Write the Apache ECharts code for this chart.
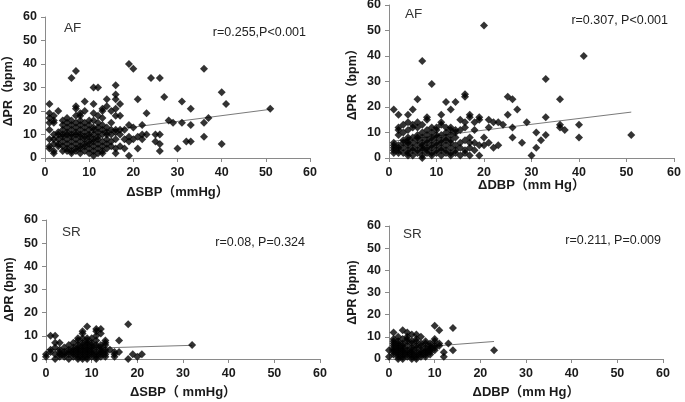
<!DOCTYPE html>
<html>
<head>
<meta charset="utf-8">
<script src="https://cdn.jsdelivr.net/npm/echarts@6/dist/echarts.min.js"></script>
<style>
html,body{margin:0;padding:0;background:#fff;}
#chart{width:685px;height:402px;}
</style>
</head>
<body>
<div id="chart"></div>
<script>
// ---- data (ΔBP mmHg, ΔPR bpm) ----
const afSbpPoints = [
[1,4],[1,5],[1,8],[1,12],[1,15],[1,17],[1,19],[1,23],
[2,2],[2,3],[2,6],[2,8],[2,10],[2,15],[2,16],[2,18],
[3,5],[3,6],[3,8],[3,10],[3,11],[3,20],
[4,3],[4,5],[4,7],[4,9],[4,10],[4,12],[4,14],[4,16],
[5,3],[5,4],[5,6],[5,8],[5,10],[5,11],[5,13],[5,15],[5,17],
[6,2],[6,3],[6,5],[6,7],[6,9],[6,10],[6,12],[6,14],[6,16],[6,34],
[7,3],[7,4],[7,6],[7,8],[7,10],[7,11],[7,13],[7,15],[7,18],[7,21],[7,22],[7,37],
[8,2],[8,4],[8,5],[8,7],[8,9],[8,10],[8,12],[8,14],[8,16],[8,18],[8,19],
[9,3],[9,5],[9,6],[9,8],[9,9],[9,11],[9,13],[9,15],[9,20],[9,24],
[10,2],[10,4],[10,6],[10,7],[10,9],[10,10],[10,12],[10,14],[10,16],
[11,1],[11,3],[11,5],[11,7],[11,8],[11,10],[11,12],[11,13],[11,16],[11,19],[11,23],[11,30],
[12,2],[12,4],[12,6],[12,8],[12,9],[12,11],[12,13],[12,15],[12,18],[12,30],
[13,2],[13,3],[13,5],[13,7],[13,10],[13,12],[13,14],[13,17],[13,20],[13,21],
[14,4],[14,6],[14,8],[14,10],[14,11],[14,13],[14,22],[14,25],
[15,5],[15,7],[15,10],[15,12],[15,15],[15,20],
[16,2],[16,4],[16,8],[16,11],[16,12],[16,18],[16,21],[16,25],[16,27],[16,31],
[17,5],[17,10],[17,12],[17,18],[17,23],
[18,4],[18,8],[18,12],
[19,1],[19,7],[19,9],[19,14],[19,40],
[20,8],[20,13],[20,38],
[21,4],[21,9],[21,25],
[22,8],[22,10],[22,14],
[23,10],[23,19],[24,34],[25,7],[25,10],
[26,3],[26,6],[26,10],[26,34],
[27,26],[28,16],[29,15],[30,4],[31,15],[31,24],[32,7],[33,7],[33,14],[33,21],
[36,9],[36,15],[36,38],[37,17],[40,6],[40,28],[41,23],[51,21]
];
const afDbpPoints = [
[1,2],[1,3],[1,4],[1,5],[1,6],[1,19],
[2,2],[2,3],[2,4],[2,5],[2,9],[2,11],[2,12],[2,17],
[3,2],[3,4],[3,6],[3,7],[3,10],[3,13],
[4,1],[4,2],[4,3],[4,5],[4,6],[4,7],[4,8],[4,11],[4,14],[4,17],
[5,1],[5,3],[5,4],[5,6],[5,8],[5,12],[5,13],[5,19],
[6,2],[6,3],[6,5],[6,7],[6,8],[6,9],[6,12],[6,14],[6,23],
[7,0],[7,1],[7,3],[7,4],[7,5],[7,6],[7,8],[7,10],[7,13],[7,38],
[8,2],[8,3],[8,4],[8,6],[8,7],[8,9],[8,11],[8,15],[8,16],
[9,1],[9,2],[9,4],[9,5],[9,7],[9,8],[9,10],[9,12],[9,29],
[10,2],[10,3],[10,5],[10,6],[10,8],[10,9],[10,11],[10,12],
[11,1],[11,3],[11,4],[11,6],[11,7],[11,9],[11,13],[11,14],[11,17],
[12,2],[12,3],[12,5],[12,7],[12,8],[12,10],[12,12],[12,22],
[13,1],[13,2],[13,4],[13,6],[13,7],[13,9],[13,11],[13,12],[13,19],
[14,2],[14,3],[14,5],[14,8],[14,10],[14,11],[14,22],
[15,1],[15,4],[15,6],[15,11],[15,15],
[16,2],[16,3],[16,7],[16,12],[16,14],[16,24],[16,25],
[17,1],[17,4],[17,6],[17,8],[17,16],[17,17],
[18,3],[18,6],[18,11],[18,14],
[19,1],[19,5],[19,15],[19,16],
[20,5],[20,8],[20,52],
[21,6],[21,12],[21,15],
[22,4],[22,14],[23,5],[23,14],[24,13],
[25,17],[25,24],[26,8],[26,12],[26,23],[27,19],[28,6],[29,14],[30,1],
[31,4],[31,10],[32,7],[33,9],[33,16],[33,31],[36,12],[36,13],[36,23],[37,11],
[40,8],[40,13],[41,40],[51,9]
];
const srSbpPoints = [
[0,1],[0,2],
[1,3],[1,4],[1,10],
[2,0],[2,2],[2,5],[2,7],[2,10],
[3,1],[3,2],[3,3],[3,4],[3,7],
[4,1],[4,2],[4,3],[4,5],
[5,0],[5,2],[5,3],[5,4],[5,6],
[6,1],[6,2],[6,3],[6,4],[6,5],[6,7],
[7,0],[7,1],[7,2],[7,3],[7,4],[7,5],[7,6],[7,8],[7,9],
[8,0],[8,1],[8,2],[8,3],[8,4],[8,5],[8,6],[8,7],[8,9],[8,11],[8,12],
[9,0],[9,1],[9,2],[9,3],[9,4],[9,5],[9,6],[9,7],[9,8],[9,9],[9,14],
[10,1],[10,2],[10,3],[10,4],[10,5],[10,6],[10,7],[10,9],
[11,0],[11,1],[11,2],[11,3],[11,5],[11,6],[11,8],[11,10],[11,12],[11,13],
[12,1],[12,2],[12,3],[12,4],[12,5],[12,6],[12,11],[12,13],
[13,1],[13,2],[13,3],[13,4],[13,6],[13,7],[13,8],
[14,4],[15,1],[15,2],[15,3],[16,3],[16,8],
[18,0],[18,15],[19,2],[20,1],[21,2],[32,6]
];
const srDbpPoints = [
[0,1],[0,4],
[1,2],[1,3],[1,4],[1,5],[1,6],[1,7],[1,8],[1,9],[1,12],
[2,0],[2,1],[2,2],[2,3],[2,4],[2,5],[2,6],[2,7],[2,8],[2,10],
[3,0],[3,1],[3,2],[3,3],[3,4],[3,5],[3,6],[3,7],[3,9],[3,13],
[4,1],[4,2],[4,3],[4,4],[4,6],[4,8],[4,9],[4,10],[4,12],
[5,0],[5,1],[5,2],[5,3],[5,4],[5,5],[5,7],[5,8],[5,11],
[6,0],[6,1],[6,2],[6,3],[6,5],[6,6],[6,8],[6,9],[6,11],
[7,1],[7,2],[7,3],[7,4],[7,6],[7,7],[7,10],
[8,1],[8,2],[8,3],[8,4],[8,5],[8,7],[8,8],
[9,2],[9,3],[9,4],[9,5],[9,6],[9,7],
[10,4],[10,5],[10,6],[10,8],[10,9],[10,15],
[11,6],[11,7],[11,13],
[12,1],[12,3],[13,7],[14,4],[14,14],[23,4]
];
// fitted regression lines (end points)
const afSbpTrend = [[1,8.5],[51,20.7]];
const afDbpTrend = [[1,6.6],[51,18]];
const srSbpTrend = [[0,4.1],[32,5.9]];
const srDbpTrend = [[0,4.3],[23,7.9]];
// panel texts
const panelTags = ['AF','AF','SR','SR'];
const statTexts = ['r=0.255,P<0.001','r=0.307, P<0.001','r=0.08, P=0.324','r=0.211, P=0.009'];
const xTitles = ['ΔSBP（mmHg）','ΔDBP（mm Hg）','ΔSBP（ mmHg）','ΔDBP（mm Hg）'];
const yTitles = ['ΔPR（bpm）','ΔPR（bpm）','ΔPR (bpm)','ΔPR (bpm)'];
const axisMin = 0, axisMax = 60, axisStep = 10;

// ---- layout ----
const FONT = '"Liberation Sans", Arial, "Noto Sans CJK SC", sans-serif';
const grids = [
  {left:45, top:17, width:265, height:141},
  {left:389, top:5, width:285, height:153},
  {left:46, top:220, width:274, height:139},
  {left:389, top:226, width:274, height:133}
];
const xGaps = [28, 18, 27, 27];
const yGaps = [30, 30, 30, 30];
const axisLineColor = '#8a8a8a';

function axisCommon(i){
  return {
    gridIndex:i, type:'value', min:axisMin, max:axisMax, interval:axisStep,
    splitLine:{show:false},
    axisLine:{show:true, lineStyle:{color:axisLineColor, width:1}},
    axisTick:{show:true, inside:false, length:4, lineStyle:{color:axisLineColor}},
    axisLabel:{color:'#1a1a1a', fontWeight:'bold', fontSize:12.5, fontFamily:FONT, margin:8},
    nameLocation:'middle',
    nameTextStyle:{color:'#1a1a1a', fontWeight:'bold', fontSize:13, fontFamily:FONT}
  };
}
const xAxes = grids.map((g,i)=>Object.assign(axisCommon(i),{name:xTitles[i], nameGap:xGaps[i]}));
const yAxes = grids.map((g,i)=>{
  const a = axisCommon(i);
  a.name = yTitles[i]; a.nameGap = yGaps[i];
  a.nameTextStyle = Object.assign({}, a.nameTextStyle, {fontSize:12.5});
  return a;
});

const pointSets = [afSbpPoints, afDbpPoints, srSbpPoints, srDbpPoints];
const trends = [afSbpTrend, afDbpTrend, srSbpTrend, srDbpTrend];
const series = [];
trends.forEach((t,i)=>{
  series.push({type:'line', xAxisIndex:i, yAxisIndex:i, data:t, showSymbol:false, symbol:'none',
    lineStyle:{color:'#7a7a7a', width:1}, silent:true, z:1, animation:false});
});
pointSets.forEach((p,i)=>{
  series.push({type:'scatter', xAxisIndex:i, yAxisIndex:i, data:p, symbol:'diamond', symbolSize:8,
    itemStyle:{color:'#000'}, z:2, animation:false});
});

// annotation positions
const tagPos = [[64,28],[405,14],[62,232],[403,234]];
const statPos = [[306,33],[668,21],[305,243],[661,241]];
const graphics = [];
panelTags.forEach((t,i)=>{
  graphics.push({type:'text', x:tagPos[i][0], y:tagPos[i][1],
    style:{text:t, font:'13.5px '+FONT, fill:'#333', textAlign:'left', textVerticalAlign:'middle'}});
});
statTexts.forEach((t,i)=>{
  graphics.push({type:'text', x:statPos[i][0], y:statPos[i][1],
    style:{text:t, font:'12.5px '+FONT, fill:'#222', textAlign:'right', textVerticalAlign:'middle'}});
});

const chart = echarts.init(document.getElementById('chart'), null, {renderer:'canvas'});
chart.setOption({
  backgroundColor:'#fff',
  animation:false,
  grid: grids.map(g=>Object.assign({outerBoundsMode:'none'}, g)),
  xAxis:xAxes,
  yAxis:yAxes,
  series:series,
  graphic:graphics
});
</script>
</body>
</html>
